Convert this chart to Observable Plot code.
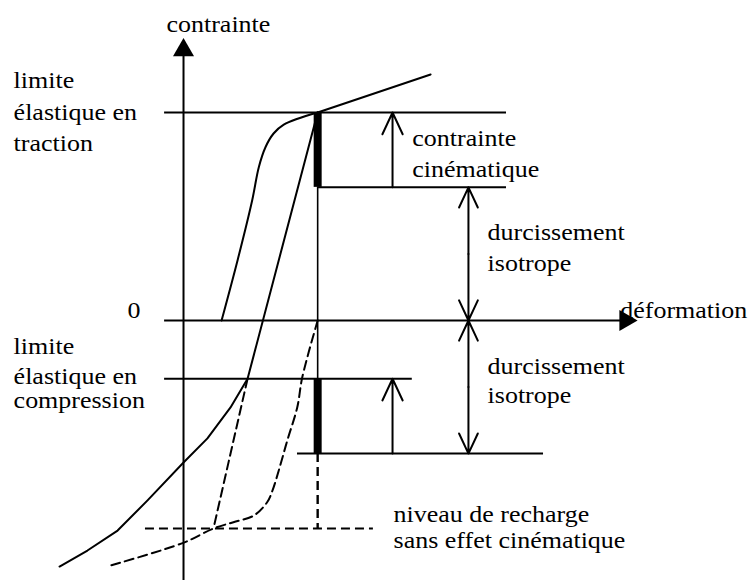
<!DOCTYPE html>
<html>
<head>
<meta charset="utf-8">
<script src="https://cdn.jsdelivr.net/npm/d3@7"></script>
<script src="https://cdn.jsdelivr.net/npm/@observablehq/plot@0.6"></script>
<style>
  html, body { margin: 0; padding: 0; background: #fff; }
  #chart svg { display: block; }
</style>
</head>
<body>
<div id="chart"></div>
<script>
// ---- stress levels (σ) ----
const sigTension = 10;      // limite élastique en traction
const sigKin = 6.4;         // bas de la contrainte cinématique
const sigComp = -2.8;       // limite élastique en compression
const sigIso = -6.4;        // bas du durcissement isotrope (compression)
const sigReload = -10;      // niveau de recharge sans effet cinématique
const epsA = 6.45;          // déformation au point de décharge

// ---- loading curve from the origin up to the tension limit ----
const loadEps = [1.83, 2.6, 3.30, 3.62, 3.94, 4.33, 4.82, 6.45];
const loadSig = [0, 2.9, 5.77, 7.37, 8.33, 8.99, 9.42, 10.0];
// ---- hardening continuation ----
const hardEps = [6.45, 11.88];
const hardSig = [10.0, 11.83];
// ---- elastic unloading + compression (solid) ----
const unloadEps = [6.45, 3.08, 2.26, 1.15, 0, -1.73, -3.17, -4.62, -5.96];
const unloadSig = [10.0, -2.8, -4.18, -5.67, -6.83, -8.65, -10.1, -11.06, -11.83];
// ---- dashed straight reloading ----
const dashLineEps = [3.08, 1.44];
const dashLineSig = [-2.8, -10.0];
// ---- dashed curve (compression from zero) ----
const dashCurveEps = [6.45, 5.71, 5.47, 4.99, 4.58, 4.28, 4.02, 3.38, 2.40, 1.44, -0.01, -3.51];
const dashCurveSig = [0, -2.73, -4.17, -5.77, -7.21, -8.17, -8.74, -9.38, -9.70, -10.0, -10.69, -11.78];

// ---- horizontal reference lines ----
const hLevels = [sigTension, sigKin, 0, sigComp, sigIso];
const hStart  = [-0.91, epsA, -0.91, -0.91, 5.48];
const hEnd    = [15.53, 15.53, 21.25, 11.0, 17.31];

// ---- axes ----
const yAxisFrom = -12.5, yAxisTo = 13.0;

// ---- arrows ----
const kinArrowEps = 10.05;
const isoArrowEps = 13.7;

// ---- texts ----
const leftLabels = ["limite", "élastique en", "traction", "limite", "élastique en", "compression"];
const leftEps = -8.17;
const leftSig = [11.2, 9.66, 8.17, -1.59, -3.03, -4.23];
const noteLabels = ["contrainte", "cinématique", "durcissement", "isotrope", "durcissement", "isotrope", "niveau de recharge", "sans effet cinématique"];
const noteEps = [11.0, 11.0, 14.62, 14.62, 14.62, 14.62, 10.1, 10.1];
const noteSig = [8.41, 6.92, 3.89, 2.40, -2.55, -3.99, -9.71, -10.96];
const yTitle = "contrainte", yTitleEps = -0.82, yTitleSig = 13.85;
const xTitle = "déformation", xTitleEps = 21.0, xTitleSig = 0.14;
const zeroLabel = "0", zeroEps = -2.07, zeroSig = 0.14;

const zip = (a, b) => a.map((v, i) => [v, b[i]]);
const font = {fontFamily: "Liberation Serif", fontSize: 23, fill: "black", lineAnchor: "bottom"};
const sw = 2;

const hRules = hLevels.map((s, i) => ({y: s, x1: hStart[i], x2: hEnd[i]}));
const arrows = [
  {x1: kinArrowEps, y1: sigKin, x2: kinArrowEps, y2: sigTension},
  {x1: kinArrowEps, y1: sigIso, x2: kinArrowEps, y2: sigComp},
  {x1: isoArrowEps, y1: sigKin / 2, x2: isoArrowEps, y2: sigKin},
  {x1: isoArrowEps, y1: sigKin / 2, x2: isoArrowEps, y2: 0},
  {x1: isoArrowEps, y1: sigIso / 2, x2: isoArrowEps, y2: 0},
  {x1: isoArrowEps, y1: sigIso / 2, x2: isoArrowEps, y2: sigIso}
];

const chart = Plot.plot({
  width: 751,
  height: 581,
  margin: 0,
  style: {background: "white", fontFamily: "Liberation Serif"},
  x: {domain: [-8.8, 27.31], axis: null},
  y: {domain: [-12.55, 15.385], axis: null},
  marks: [
    // axes
    Plot.ruleX([0], {y1: yAxisFrom, y2: yAxisTo, stroke: "black", strokeWidth: sw}),
    Plot.dot([[0, yAxisTo]], {x: d => d[0], y: d => d[1], symbol: "triangle", r: 7.8, fill: "black", stroke: "none"}),
    Plot.dot([[hEnd[2], 0]], {x: d => d[0], y: d => d[1], symbol: "triangle", r: 7.8, fill: "black", stroke: "none", rotate: 90}),
    // horizontal lines
    Plot.ruleY(hRules, {y: "y", x1: "x1", x2: "x2", stroke: "black", strokeWidth: sw}),
    // thin vertical
    Plot.ruleX([epsA], {y1: sigKin, y2: sigComp, stroke: "black", strokeWidth: 1.6}),
    // thick bars
    Plot.ruleX([epsA], {y1: sigTension, y2: sigKin, stroke: "black", strokeWidth: 8}),
    Plot.ruleX([epsA], {y1: sigComp, y2: sigIso, stroke: "black", strokeWidth: 8}),
    // dashed guides
    Plot.ruleX([epsA], {y1: sigIso, y2: sigReload, stroke: "black", strokeWidth: 2.4, strokeDasharray: "9,5"}),
    Plot.ruleY([sigReload], {x1: -1.83, x2: 9.13, stroke: "black", strokeWidth: 2, strokeDasharray: "9,5"}),
    // curves
    Plot.line(zip(loadEps, loadSig), {curve: "catmull-rom", stroke: "black", strokeWidth: sw}),
    Plot.line(zip(hardEps, hardSig), {stroke: "black", strokeWidth: sw}),
    Plot.line(zip(unloadEps, unloadSig), {curve: "linear", stroke: "black", strokeWidth: sw}),
    Plot.line(zip(dashLineEps, dashLineSig), {stroke: "black", strokeWidth: 2, strokeDasharray: "9,5"}),
    Plot.line(zip(dashCurveEps, dashCurveSig), {curve: "catmull-rom", stroke: "black", strokeWidth: 2, strokeDasharray: "9,5"}),
    // arrows
    Plot.arrow(arrows, {x1: "x1", y1: "y1", x2: "x2", y2: "y2", stroke: "black", strokeWidth: sw, headAngle: 50, headLength: 18}),
    // texts
    Plot.text(leftLabels, {x: () => leftEps, y: (d, i) => leftSig[i], text: d => d, textAnchor: "start", ...font}),
    Plot.text(noteLabels, {x: (d, i) => noteEps[i], y: (d, i) => noteSig[i], text: d => d, textAnchor: "start", ...font}),
    Plot.text([yTitle], {x: () => yTitleEps, y: () => yTitleSig, text: d => d, textAnchor: "start", ...font}),
    Plot.text([xTitle], {x: () => xTitleEps, y: () => xTitleSig, text: d => d, textAnchor: "start", ...font}),
    Plot.text([zeroLabel], {x: () => zeroEps, y: () => zeroSig, text: d => d, textAnchor: "end", ...font})
  ]
});

// the original's serif lettering is slightly wider than Times: stretch horizontally
d3.select(chart).selectAll("text").each(function () {
  this.setAttribute("font-family", "Liberation Serif");
  const t = this.getAttribute("transform");
  if (t) this.setAttribute("transform", t + " scale(1.13,1)");
});

document.getElementById("chart").appendChild(chart);
</script>
</body>
</html>
